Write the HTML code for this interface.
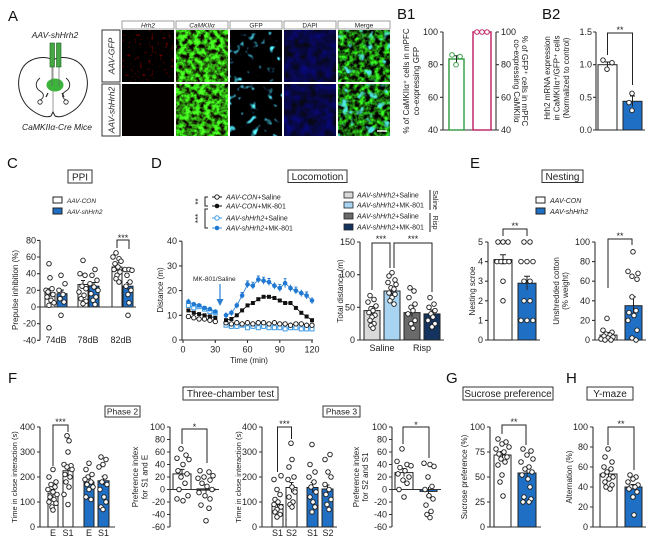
<!DOCTYPE html>
<html><head><meta charset="utf-8">
<style>
html,body{margin:0;padding:0;background:#fff;}
svg{display:block;}
text{font-family:"Liberation Sans",Arial,sans-serif;fill:#222;}
.ax{stroke:#333;stroke-width:1.1;fill:none;}
.er{stroke:#222;stroke-width:1;fill:none;}
.bw{fill:#fff;stroke:#222;stroke-width:1;}
.bb{fill:#1f70c4;stroke:#222;stroke-width:1;}
.tk{font-size:9px;}
.tl{font-size:8px;}
.it{font-style:italic;}
.lt{font-size:15px;fill:#111;}
.box{fill:#fff;stroke:#333;stroke-width:1;}
</style></head><body>
<svg width="650" height="539" viewBox="0 0 650 539" xmlns="http://www.w3.org/2000/svg" xmlns:xlink="http://www.w3.org/1999/xlink">
<defs>
<circle id="c" r="2.3" fill="#fff" stroke="#222" stroke-width="0.9"/>
<circle id="oc" r="2.2" fill="#fff" stroke="#111" stroke-width="0.9"/>
<rect id="sq" x="-2" y="-2" width="4" height="4" fill="#111"/>
<rect id="lb" x="-2" y="-2" width="4" height="4" fill="#fff" stroke="#3d9be6" stroke-width="1"/>
<circle id="bc" r="2.3" fill="#1f78d1"/>
<circle id="lc" r="2.2" fill="#fff" stroke="#3d9be6" stroke-width="1"/>
<filter id="tR" x="0" y="0" width="1" height="1" color-interpolation-filters="sRGB">
<feTurbulence type="fractalNoise" baseFrequency="0.35" numOctaves="1" seed="4"/>
<feColorMatrix type="matrix" values="2.4 0 0 0 -1.45  0 0 0 0 0  0 0 0 0 0  0 0 0 0 1"/>
</filter>
<filter id="tG" x="0" y="0" width="1" height="1" color-interpolation-filters="sRGB">
<feTurbulence type="fractalNoise" baseFrequency="0.2" numOctaves="3" seed="7"/>
<feColorMatrix type="matrix" values="0.5 0 0 0 -0.07  2.8 0 0 0 -0.8  0.3 0 0 0 -0.08  0 0 0 0 1"/>
</filter>
<filter id="tGd" x="0" y="0" width="1" height="1" color-interpolation-filters="sRGB">
<feTurbulence type="fractalNoise" baseFrequency="0.2" numOctaves="3" seed="9"/>
<feColorMatrix type="matrix" values="0.4 0 0 0 -0.1  2.4 0 0 0 -0.8  0.3 0 0 0 -0.1  0 0 0 0 1"/>
</filter>
<filter id="tC" x="0" y="0" width="1" height="1" color-interpolation-filters="sRGB">
<feTurbulence type="fractalNoise" baseFrequency="0.12" numOctaves="2" seed="11"/>
<feColorMatrix type="matrix" values="2 0 0 0 -1.22  6 0 0 0 -3.65  6 0 0 0 -3.6  0 0 0 0 1"/>
</filter>
<filter id="tC2" x="0" y="0" width="1" height="1" color-interpolation-filters="sRGB">
<feTurbulence type="fractalNoise" baseFrequency="0.12" numOctaves="2" seed="21"/>
<feColorMatrix type="matrix" values="2 0 0 0 -1.18  6 0 0 0 -3.55  6 0 0 0 -3.5  0 0 0 0 1"/>
</filter>
<filter id="tCa" x="0" y="0" width="1" height="1" color-interpolation-filters="sRGB">
<feTurbulence type="fractalNoise" baseFrequency="0.12" numOctaves="2" seed="13"/>
<feColorMatrix type="matrix" values="0 0 0 0 0.3  0 0 0 0 0.9  0 0 0 0 0.88  6 0 0 0 -3.6"/>
</filter>
<filter id="tCb" x="0" y="0" width="1" height="1" color-interpolation-filters="sRGB">
<feTurbulence type="fractalNoise" baseFrequency="0.12" numOctaves="2" seed="23"/>
<feColorMatrix type="matrix" values="0 0 0 0 0.3  0 0 0 0 0.9  0 0 0 0 0.88  6 0 0 0 -3.5"/>
</filter>
<filter id="tB" x="0" y="0" width="1" height="1" color-interpolation-filters="sRGB">
<feTurbulence type="fractalNoise" baseFrequency="0.12" numOctaves="2" seed="3"/>
<feColorMatrix type="matrix" values="0 0 0 0 0.03  0 0 0 0 0.03  0.7 0 0 0 -0.08  0 0 0 0 1"/>
</filter>
</defs>
<rect width="650" height="539" fill="#fff"/>

<!-- ===== Panel A ===== -->
<text class="lt" x="8" y="21">A</text>
<text x="55" y="38" font-size="8.5" font-style="italic" fill="#35a33a" text-anchor="middle">AAV-shHrh2</text>
<path d="M53,60 C45,55 27,57 21,71 C15,86 21,103 33,111 C40,116 47,118 51,116 L53,112 L55,116 C59,118 66,116 73,111 C85,103 91,86 85,71 C79,57 61,55 53,60 Z" fill="#fff" stroke="#222" stroke-width="1"/>
<path d="M53,60 L53,112" stroke="#555" stroke-width="0.6"/>
<path d="M40,78 C35,82 35,88 40,91 C45,94 44,98 40,100 M66,78 C71,82 71,88 66,91 C61,94 62,98 66,100" stroke="#222" stroke-width="0.9" fill="none"/>
<circle cx="40" cy="102" r="2.2" fill="none" stroke="#222" stroke-width="0.8"/>
<circle cx="66" cy="102" r="2.2" fill="none" stroke="#222" stroke-width="0.8"/>
<ellipse cx="55" cy="85" rx="8.5" ry="6.5" fill="#3cb43c"/>
<path d="M52,67 V86 M59,67 V86" stroke="#666" stroke-width="0.7"/>
<rect x="50" y="43" width="4.5" height="24" fill="#45a845" stroke="#1d5e1d" stroke-width="0.6"/>
<rect x="56.5" y="43" width="4.5" height="24" fill="#45a845" stroke="#1d5e1d" stroke-width="0.6"/>
<path d="M48,93 L46,97 M62,93 L64,97" stroke="#222" stroke-width="1.2"/>
<text x="57" y="130" font-size="8.5" font-style="italic" text-anchor="middle">CaMKIIα-Cre Mice</text>

<rect x="102" y="30" width="18" height="52" class="box" stroke="#888"/>
<rect x="102" y="84" width="18" height="52" class="box" stroke="#888"/>
<text transform="translate(114.5,56) rotate(-90)" font-size="8.5" font-style="italic" text-anchor="middle">AAV-GFP</text>
<text transform="translate(114.5,110) rotate(-90)" font-size="8.5" font-style="italic" text-anchor="middle">AAV-shHrh2</text>

<rect x="122" y="21" width="52" height="8" fill="#fff" stroke="#888" stroke-width="0.8"/>
<rect x="176" y="21" width="52" height="8" fill="#fff" stroke="#888" stroke-width="0.8"/>
<rect x="230" y="21" width="52" height="8" fill="#fff" stroke="#888" stroke-width="0.8"/>
<rect x="284" y="21" width="52" height="8" fill="#fff" stroke="#888" stroke-width="0.8"/>
<rect x="338" y="21" width="52" height="8" fill="#fff" stroke="#888" stroke-width="0.8"/>
<text x="148" y="27.5" font-size="6.5" font-style="italic" fill="#e03030" text-anchor="middle">Hrh2</text>
<text x="202" y="27.5" font-size="6.5" font-style="italic" fill="#2fb02f" text-anchor="middle">CaMKIIα</text>
<text x="256" y="27.5" font-size="6.5" fill="#30c8d0" text-anchor="middle">GFP</text>
<text x="310" y="27.5" font-size="6.5" fill="#4a4ae0" text-anchor="middle">DAPI</text>
<text x="364" y="27.5" font-size="6.5" text-anchor="middle">Merge</text>

<rect x="122" y="30" width="52" height="52" filter="url(#tR)"/>
<rect x="176" y="30" width="52" height="52" filter="url(#tG)"/>
<rect x="230" y="30" width="52" height="52" filter="url(#tC)"/>
<rect x="284" y="30" width="52" height="52" filter="url(#tB)"/>
<rect x="338" y="30" width="52" height="52" filter="url(#tGd)"/>
<rect x="338" y="30" width="52" height="52" filter="url(#tCa)"/>
<rect x="122" y="84" width="52" height="52" fill="#050000"/>
<rect x="176" y="84" width="52" height="52" filter="url(#tG)"/>
<rect x="230" y="84" width="52" height="52" filter="url(#tC2)"/>
<rect x="284" y="84" width="52" height="52" filter="url(#tB)"/>
<rect x="338" y="84" width="52" height="52" filter="url(#tGd)"/>
<rect x="338" y="84" width="52" height="52" filter="url(#tCb)"/>
<path d="M377,131 H387" stroke="#fff" stroke-width="1.5"/>

<!-- ===== Panel B1 ===== -->
<text class="lt" x="397" y="19">B1</text>
<text transform="translate(409,81) rotate(-90)" class="tl" text-anchor="middle">% of CaMKIIα⁺ cells in mPFC</text>
<text transform="translate(419,81) rotate(-90)" class="tl" text-anchor="middle">co-expressing GFP</text>
<path class="ax" d="M443,32 V130 H496 V32 M440,32H443 M440,64.7H443 M440,97.3H443 M440,130H443 M496,32H499 M496,64.7H499 M496,97.3H499 M496,130H499"/>
<g class="tk" text-anchor="end"><text x="438" y="35">100</text><text x="438" y="67.7">80</text><text x="438" y="100.3">60</text><text x="438" y="133">40</text></g>
<g class="tk"><text x="501" y="35">100</text><text x="501" y="67.7">80</text><text x="501" y="100.3">60</text><text x="501" y="133">40</text></g>
<rect x="449" y="59" width="15" height="71" fill="#fff" stroke="#3aa048" stroke-width="1.5"/>
<rect x="473" y="32" width="18" height="98" fill="#fff" stroke="#c02a6a" stroke-width="1.5"/>
<path class="er" d="M456.5,55.7 V62.3 M453.5,55.7 H459.5"/>
<circle cx="452" cy="54.9" r="2.3" fill="#fff" stroke="#3aa048" stroke-width="1"/>
<circle cx="460" cy="56.5" r="2.3" fill="#fff" stroke="#3aa048" stroke-width="1"/>
<circle cx="456" cy="64.7" r="2.3" fill="#fff" stroke="#3aa048" stroke-width="1"/>
<circle cx="477" cy="32" r="2.3" fill="#fff" stroke="#c02a6a" stroke-width="1"/>
<circle cx="482" cy="32" r="2.3" fill="#fff" stroke="#c02a6a" stroke-width="1"/>
<circle cx="487" cy="32" r="2.3" fill="#fff" stroke="#c02a6a" stroke-width="1"/>
<text transform="translate(522,81) rotate(90)" class="tl" text-anchor="middle">% of GFP⁺ cells in mPFC</text>
<text transform="translate(514,81) rotate(90)" class="tl" text-anchor="middle">co-expressing CaMKIIα</text>

<!-- ===== Panel B2 ===== -->
<text class="lt" x="542" y="19">B2</text>
<text transform="translate(550,78) rotate(-90)" class="tl" text-anchor="middle">Hrh2 mRNA expression</text>
<text transform="translate(559.5,78) rotate(-90)" class="tl" text-anchor="middle">in CaMKIIα⁺/GFP⁺ cells</text>
<text transform="translate(569,78) rotate(-90)" class="tl" text-anchor="middle">(Normalized to control)</text>
<path class="ax" d="M596,32 V130 H645 M593,32H596 M593,64.7H596 M593,97.3H596 M593,130H596"/>
<g class="tk" text-anchor="end"><text x="592" y="35">1.5</text><text x="592" y="67.7">1.0</text><text x="592" y="100.3">0.5</text><text x="592" y="133">0.0</text></g>
<rect x="598" y="64.7" width="19" height="65.3" class="bw"/>
<rect x="623" y="101.3" width="19" height="28.7" class="bb"/>
<path class="er" d="M607.5,62 V67.3 M605,62 H610 M632.5,96 V106.5 M630,96 H635"/>
<use href="#c" x="603" y="60.1"/><use href="#c" x="612" y="62.7"/><use href="#c" x="607" y="69.2"/>
<use href="#c" x="632" y="93.4"/><use href="#c" x="629" y="102.6"/><use href="#c" x="632" y="110.4"/>
<path class="er" d="M607.5,55 V33 H632.5 V85"/>
<text x="620" y="33" font-size="9" text-anchor="middle">**</text>

<!-- ===== Panel C ===== -->
<text class="lt" x="7" y="168">C</text>
<rect x="68" y="170" width="24" height="13" class="box"/>
<text x="80" y="180.5" font-size="10" text-anchor="middle">PPI</text>
<rect x="53" y="197" width="9" height="6" class="bw"/>
<rect x="53" y="208" width="9" height="6" class="bb"/>
<text x="67" y="203" font-size="6.5" font-style="italic">AAV-CON</text>
<text x="67" y="214" font-size="6.5" font-style="italic">AAV-shHrh2</text>
<path class="ax" d="M40,240.4 V340.3 M37,240.4H40 M37,257H40 M37,273.7H40 M37,290.3H40 M37,307H40 M37,323.7H40 M37,340.3H40"/>
<g class="tk" text-anchor="end"><text x="36" y="243.4">80</text><text x="36" y="260">60</text><text x="36" y="276.7">40</text><text x="36" y="293.3">20</text><text x="36" y="310">0</text><text x="36" y="326.7">-20</text><text x="36" y="343.3">-40</text></g>
<text transform="translate(18,290) rotate(-90)" class="tl" text-anchor="middle">Prepulse inhibition (%)</text>
<rect x="45" y="292.8" width="10" height="14.2" class="bw"/>
<rect x="57" y="293.7" width="10" height="13.3" class="bb"/>
<rect x="78" y="284.5" width="10" height="22.5" class="bw"/>
<rect x="89" y="286.2" width="10" height="20.8" class="bb"/>
<rect x="112" y="267" width="10" height="40" class="bw"/>
<rect x="123" y="286.2" width="10" height="20.8" class="bb"/>
<path class="ax" d="M40,307 H136"/>
<path class="er" d="M50,288.8V296.8 M48,288.8H52 M62,290V297 M60,290H64 M83,280.5V288.5 M81,280.5H85 M94,282.5V290 M92,282.5H96 M117,263V271 M115,263H119 M128,282.5V290 M126,282.5H130"/>
<g>
<use href="#c" x="49" y="263.7"/><use href="#c" x="50" y="277.8"/><use href="#c" x="46" y="290.3"/><use href="#c" x="52" y="288.7"/><use href="#c" x="48" y="292"/><use href="#c" x="53" y="294.5"/><use href="#c" x="47" y="297"/><use href="#c" x="51" y="300.3"/><use href="#c" x="54" y="302.8"/><use href="#c" x="49" y="305.3"/><use href="#c" x="49" y="327.8"/>
<use href="#c" x="61" y="275.3"/><use href="#c" x="65" y="283.7"/><use href="#c" x="59" y="290.3"/><use href="#c" x="63" y="294.5"/><use href="#c" x="60" y="298.7"/><use href="#c" x="64" y="302"/><use href="#c" x="61" y="315.3"/>
<use href="#c" x="83" y="260.4"/><use href="#c" x="80" y="273.7"/><use href="#c" x="85" y="275.3"/><use href="#c" x="82" y="286.2"/><use href="#c" x="86" y="288.7"/><use href="#c" x="79" y="292"/><use href="#c" x="84" y="295.3"/><use href="#c" x="81" y="298.7"/><use href="#c" x="86" y="301.2"/><use href="#c" x="83" y="303.7"/>
<use href="#c" x="95" y="269.5"/><use href="#c" x="92" y="275.3"/><use href="#c" x="97" y="280.3"/><use href="#c" x="90" y="283.7"/><use href="#c" x="94" y="287"/><use href="#c" x="98" y="290.3"/><use href="#c" x="91" y="293.7"/><use href="#c" x="96" y="297"/><use href="#c" x="93" y="300.3"/><use href="#c" x="95" y="304.5"/>
<use href="#c" x="116" y="252.9"/><use href="#c" x="113" y="257"/><use href="#c" x="119" y="258.7"/><use href="#c" x="121" y="261.2"/><use href="#c" x="115" y="263.7"/><use href="#c" x="118" y="267"/><use href="#c" x="114" y="269.5"/><use href="#c" x="120" y="272"/><use href="#c" x="117" y="275.3"/><use href="#c" x="116" y="278.7"/><use href="#c" x="119" y="282"/>
<use href="#c" x="125" y="269.5"/><use href="#c" x="129" y="269.5"/><use href="#c" x="132" y="270.3"/><use href="#c" x="127" y="275.3"/><use href="#c" x="130" y="282"/><use href="#c" x="126" y="286.2"/><use href="#c" x="131" y="290.3"/><use href="#c" x="128" y="294.5"/><use href="#c" x="129" y="302.8"/><use href="#c" x="128" y="315.3"/>
</g>
<path class="er" d="M117,248 V240 H129 V249"/>
<text x="123" y="241" font-size="9" text-anchor="middle">***</text>
<g class="tk" text-anchor="middle"><text x="56" y="343">74dB</text><text x="88" y="343">78dB</text><text x="121" y="343">82dB</text></g>

<!-- ===== Panel D ===== -->
<text class="lt" x="151" y="168">D</text>
<rect x="288" y="170" width="59" height="12.5" class="box"/>
<text x="317.5" y="180" font-size="10" text-anchor="middle">Locomotion</text>
<path d="M212,197H222 M212,206H222" stroke="#111" stroke-width="0.9"/>
<path d="M212,218H222 M212,228H222" stroke="#3d9be6" stroke-width="0.9"/>
<use href="#oc" x="217" y="197"/>
<circle cx="217" cy="206" r="2.3" fill="#111"/>
<use href="#lc" x="217" y="218"/>
<use href="#bc" x="217" y="228"/>
<g font-size="7"><text x="226" y="199.5"><tspan font-style="italic">AAV-CON</tspan>+Saline</text>
<text x="226" y="208.5"><tspan font-style="italic">AAV-CON</tspan>+MK-801</text>
<text x="226" y="220.5"><tspan font-style="italic">AAV-shHrh2</tspan>+Saline</text>
<text x="226" y="230.5"><tspan font-style="italic">AAV-shHrh2</tspan>+MK-801</text></g>
<path class="er" d="M208,197 H205 V206 H208 M208,209 H205 V228 H208"/>
<text transform="translate(201,201.5) rotate(-90)" font-size="8" text-anchor="middle">**</text>
<text transform="translate(201,218.5) rotate(-90)" font-size="8" text-anchor="middle">***</text>
<rect x="344" y="192" width="9" height="6" fill="#d9d9d9" stroke="#222" stroke-width="0.8"/>
<rect x="344" y="202" width="9" height="6" fill="#a8d4f2" stroke="#222" stroke-width="0.8"/>
<rect x="344" y="213" width="9" height="6" fill="#6a6a6a" stroke="#222" stroke-width="0.8"/>
<rect x="344" y="224" width="9" height="6" fill="#14345f" stroke="#222" stroke-width="0.8"/>
<g font-size="7"><text x="357" y="197.5"><tspan font-style="italic">AAV-shHrh2</tspan>+Saline</text>
<text x="357" y="207.5"><tspan font-style="italic">AAV-shHrh2</tspan>+MK-801</text>
<text x="357" y="218.5"><tspan font-style="italic">AAV-shHrh2</tspan>+Saline</text>
<text x="357" y="229.5"><tspan font-style="italic">AAV-shHrh2</tspan>+MK-801</text></g>
<path class="er" d="M430,190 V210 M430,213 V232"/>
<text transform="translate(433,200) rotate(90)" font-size="7" text-anchor="middle">Saline</text>
<text transform="translate(433,222.5) rotate(90)" font-size="7" text-anchor="middle">Risp</text>
<path class="ax" d="M182,241.2 V340 H313 M179,241.2H182 M179,265.9H182 M179,290.6H182 M179,315.3H182 M179,340H182 M183,340V343 M215.3,340V343 M247.5,340V343 M279.8,340V343 M312,340V343"/>
<g class="tk" text-anchor="end"><text x="177" y="244.2">40</text><text x="177" y="268.9">30</text><text x="177" y="293.6">20</text><text x="177" y="318.3">10</text><text x="177" y="343">0</text></g>
<g class="tk" text-anchor="middle"><text x="183" y="352.5">0</text><text x="215.3" y="352.5">30</text><text x="247.5" y="352.5">60</text><text x="279.8" y="352.5">90</text><text x="312" y="352.5">120</text></g>
<text x="249" y="363" class="tl" text-anchor="middle">Time (min)</text>
<text transform="translate(163,290) rotate(-90)" class="tl" text-anchor="middle">Distance (m)</text>
<text x="193" y="281" font-size="6.5">MK-801/Saline</text>
<path d="M220,284 V300" stroke="#2a7fd4" stroke-width="1.2"/>
<path d="M216.5,299 L223.5,299 L220,306 Z" fill="#2a7fd4"/>
<g fill="none" stroke-width="0.8">
<polyline stroke="#111" points="188.4,316.5 193.8,317.8 199.1,319 204.5,319 209.9,320.2 215.3,321.5"/>
<polyline stroke="#111" points="226,322.7 231.4,323.9 236.8,322.7 242.1,323.9 247.5,322.7 252.9,323.9 258.3,322.7 263.6,322.7 269,323.9 274.4,322.7 279.8,323.9 285.1,323.9 290.5,325.2 295.9,323.9 301.3,323.9 306.6,325.2 312,325.2"/>
<polyline stroke="#3d9be6" points="188.4,305.4 193.8,307.9 199.1,306.7 204.5,309.1 209.9,311.6 215.3,312.8"/>
<polyline stroke="#3d9be6" points="226,325.2 231.4,326.4 236.8,326.4 242.1,325.2 247.5,327.7 252.9,326.4 258.3,327.7 263.6,326.4 269,327.7 274.4,327.7 279.8,327.7 285.1,328.9 290.5,327.7 295.9,327.7 301.3,328.9 306.6,328.9 312,328.9"/>
<polyline stroke="#111" points="188.4,310.4 193.8,312.8 199.1,314.1 204.5,315.3 209.9,316.5 215.3,317.8"/>
<polyline stroke="#111" points="226,320.2 231.4,319 236.8,315.3 242.1,310.4 247.5,305.4 252.9,303 258.3,299.2 263.6,296.8 269,296.8 274.4,298 279.8,300.5 285.1,303 290.5,303 295.9,307.9 301.3,312.8 306.6,316.5 312,320.2"/>
<polyline stroke="#1f78d1" points="188.4,301.7 193.8,304.2 199.1,305.4 204.5,307.9 209.9,309.1 215.3,311.6"/>
<polyline stroke="#1f78d1" points="226,315.3 231.4,312.8 236.8,305.4 242.1,295.5 247.5,284.4 252.9,285.7 258.3,279.5 263.6,280.7 269,282 274.4,285.7 279.8,288.1 285.1,283.2 290.5,288.1 295.9,290.6 301.3,293.1 306.6,295.5 312,300.5"/>
</g>
<path stroke="#1f78d1" stroke-width="0.9" fill="none" d="M188.4,298.7V304.7 M226,312.3V318.3 M231.4,309.8V315.8 M236.8,302.4V308.4 M242.1,292.5V298.5 M240.6,292.5H243.6 M247.5,281V287.8 M246,281H249 M252.9,282.2V289.2 M251.4,282.2H254.4 M258.3,276V283 M256.8,276H259.8 M263.6,277.2V284.2 M262.1,277.2H265.1 M269,278.5V285.5 M267.5,278.5H270.5 M274.4,282.2V289.2 M279.8,284.6V291.6 M278.3,284.6H281.3 M285.1,278.7V287.7 M283.6,278.7H286.6 M290.5,284.6V291.6 M295.9,287.1V294.1 M294.4,287.1H297.4 M301.3,289.6V296.6 M306.6,292V299 M305.1,292H308.1 M312,297V304"/>
<g>
<use href="#lb" x="188.4" y="305.4"/><use href="#lb" x="193.8" y="307.9"/><use href="#lb" x="199.1" y="306.7"/><use href="#lb" x="204.5" y="309.1"/><use href="#lb" x="209.9" y="311.6"/><use href="#lb" x="215.3" y="312.8"/>
<use href="#lb" x="226" y="325.2"/><use href="#lb" x="231.4" y="326.4"/><use href="#lb" x="236.8" y="326.4"/><use href="#lb" x="242.1" y="325.2"/><use href="#lb" x="247.5" y="327.7"/><use href="#lb" x="252.9" y="326.4"/><use href="#lb" x="258.3" y="327.7"/><use href="#lb" x="263.6" y="326.4"/><use href="#lb" x="269" y="327.7"/><use href="#lb" x="274.4" y="327.7"/><use href="#lb" x="279.8" y="327.7"/><use href="#lb" x="285.1" y="328.9"/><use href="#lb" x="290.5" y="327.7"/><use href="#lb" x="295.9" y="327.7"/><use href="#lb" x="301.3" y="328.9"/><use href="#lb" x="306.6" y="328.9"/><use href="#lb" x="312" y="328.9"/>
<use href="#oc" x="188.4" y="316.5"/><use href="#oc" x="193.8" y="317.8"/><use href="#oc" x="199.1" y="319"/><use href="#oc" x="204.5" y="319"/><use href="#oc" x="209.9" y="320.2"/><use href="#oc" x="215.3" y="321.5"/>
<use href="#oc" x="226" y="322.7"/><use href="#oc" x="231.4" y="323.9"/><use href="#oc" x="236.8" y="322.7"/><use href="#oc" x="242.1" y="323.9"/><use href="#oc" x="247.5" y="322.7"/><use href="#oc" x="252.9" y="323.9"/><use href="#oc" x="258.3" y="322.7"/><use href="#oc" x="263.6" y="322.7"/><use href="#oc" x="269" y="323.9"/><use href="#oc" x="274.4" y="322.7"/><use href="#oc" x="279.8" y="323.9"/><use href="#oc" x="285.1" y="323.9"/><use href="#oc" x="290.5" y="325.2"/><use href="#oc" x="295.9" y="323.9"/><use href="#oc" x="301.3" y="323.9"/><use href="#oc" x="306.6" y="325.2"/><use href="#oc" x="312" y="325.2"/>
<use href="#sq" x="188.4" y="310.4"/><use href="#sq" x="193.8" y="312.8"/><use href="#sq" x="199.1" y="314.1"/><use href="#sq" x="204.5" y="315.3"/><use href="#sq" x="209.9" y="316.5"/><use href="#sq" x="215.3" y="317.8"/>
<use href="#sq" x="226" y="320.2"/><use href="#sq" x="231.4" y="319"/><use href="#sq" x="236.8" y="315.3"/><use href="#sq" x="242.1" y="310.4"/><use href="#sq" x="247.5" y="305.4"/><use href="#sq" x="252.9" y="303"/><use href="#sq" x="258.3" y="299.2"/><use href="#sq" x="263.6" y="296.8"/><use href="#sq" x="269" y="296.8"/><use href="#sq" x="274.4" y="298"/><use href="#sq" x="279.8" y="300.5"/><use href="#sq" x="285.1" y="303"/><use href="#sq" x="290.5" y="303"/><use href="#sq" x="295.9" y="307.9"/><use href="#sq" x="301.3" y="312.8"/><use href="#sq" x="306.6" y="316.5"/><use href="#sq" x="312" y="320.2"/>
<use href="#bc" x="188.4" y="301.7"/><use href="#bc" x="193.8" y="304.2"/><use href="#bc" x="199.1" y="305.4"/><use href="#bc" x="204.5" y="307.9"/><use href="#bc" x="209.9" y="309.1"/><use href="#bc" x="215.3" y="311.6"/>
<use href="#bc" x="226" y="315.3"/><use href="#bc" x="231.4" y="312.8"/><use href="#bc" x="236.8" y="305.4"/><use href="#bc" x="242.1" y="295.5"/><use href="#bc" x="247.5" y="284.4"/><use href="#bc" x="252.9" y="285.7"/><use href="#bc" x="258.3" y="279.5"/><use href="#bc" x="263.6" y="280.7"/><use href="#bc" x="269" y="282"/><use href="#bc" x="274.4" y="285.7"/><use href="#bc" x="279.8" y="288.1"/><use href="#bc" x="285.1" y="283.2"/><use href="#bc" x="290.5" y="288.1"/><use href="#bc" x="295.9" y="290.6"/><use href="#bc" x="301.3" y="293.1"/><use href="#bc" x="306.6" y="295.5"/><use href="#bc" x="312" y="300.5"/>
</g>
<path class="ax" d="M360,242 V340 H444 M357,242H360 M357,274.7H360 M357,307.3H360 M357,340H360"/>
<g class="tk" text-anchor="end"><text x="355" y="245">150</text><text x="355" y="277.7">100</text><text x="355" y="310.3">50</text><text x="355" y="343">0</text></g>
<text transform="translate(343,291) rotate(-90)" class="tl" text-anchor="middle">Total distance (m)</text>
<rect x="364" y="310.6" width="16" height="29.4" fill="#d9d9d9" stroke="#222" stroke-width="1"/>
<rect x="384" y="291" width="16" height="49" fill="#a8d4f2" stroke="#222" stroke-width="1"/>
<rect x="404" y="312.6" width="16" height="27.4" fill="#6a6a6a" stroke="#222" stroke-width="1"/>
<rect x="424" y="313.9" width="16" height="26.1" fill="#14345f" stroke="#222" stroke-width="1"/>
<path class="er" d="M372,306.6V314.6 M369.5,306.6H374.5 M392,287V295 M389.5,287H394.5 M412,308V317 M409.5,308H414.5 M432,310V318 M429.5,310H434.5"/>
<g>
<use href="#c" x="370" y="295.6"/><use href="#c" x="374" y="299.5"/><use href="#c" x="368" y="302.1"/><use href="#c" x="376" y="306"/><use href="#c" x="371" y="308.7"/><use href="#c" x="373" y="310.6"/><use href="#c" x="369" y="312.6"/><use href="#c" x="375" y="315.2"/><use href="#c" x="372" y="317.1"/><use href="#c" x="370" y="320.4"/><use href="#c" x="374" y="323.7"/><use href="#c" x="371" y="325.6"/><use href="#c" x="373" y="328.2"/>
<use href="#c" x="392" y="272.7"/><use href="#c" x="389" y="276"/><use href="#c" x="395" y="279.9"/><use href="#c" x="388" y="282.5"/><use href="#c" x="396" y="284.5"/><use href="#c" x="391" y="287.8"/><use href="#c" x="394" y="289.1"/><use href="#c" x="389" y="293"/><use href="#c" x="395" y="294.3"/><use href="#c" x="392" y="297.6"/><use href="#c" x="390" y="300.8"/><use href="#c" x="394" y="304.1"/>
<use href="#c" x="410" y="287.8"/><use href="#c" x="414" y="291"/><use href="#c" x="409" y="297.6"/><use href="#c" x="415" y="304.1"/><use href="#c" x="411" y="307.3"/><use href="#c" x="413" y="310.6"/><use href="#c" x="408" y="313.9"/><use href="#c" x="415" y="320.4"/><use href="#c" x="411" y="323.7"/><use href="#c" x="413" y="328.2"/>
<use href="#c" x="430" y="297.6"/><use href="#c" x="434" y="304.1"/><use href="#c" x="429" y="307.3"/><use href="#c" x="435" y="310.6"/><use href="#c" x="431" y="313.9"/><use href="#c" x="433" y="317.1"/><use href="#c" x="428" y="320.4"/><use href="#c" x="435" y="323.7"/><use href="#c" x="432" y="326.9"/>
</g>
<path class="er" d="M372,290 V243 H390 V268 M394,268 V243 H432 V292"/>
<text x="381" y="242" font-size="9" text-anchor="middle">***</text>
<text x="413" y="242" font-size="9" text-anchor="middle">***</text>
<g class="tk" text-anchor="middle"><text x="382" y="351">Saline</text><text x="422" y="351">Risp</text></g>

<!-- ===== Panel E ===== -->
<text class="lt" x="470" y="168">E</text>
<rect x="542" y="170" width="41" height="12.5" class="box"/>
<text x="562.5" y="180" font-size="10" text-anchor="middle">Nesting</text>
<rect x="536" y="197" width="9" height="6" class="bw"/>
<rect x="536" y="208" width="9" height="6" class="bb"/>
<text x="550" y="203" font-size="7" font-style="italic">AAV-CON</text>
<text x="550" y="214" font-size="7" font-style="italic">AAV-shHrh2</text>
<path class="ax" d="M488,242 V340 H540 M485,242H488 M485,261.6H488 M485,281.2H488 M485,300.8H488 M485,320.4H488 M485,340H488"/>
<g class="tk" text-anchor="end"><text x="483" y="245">5</text><text x="483" y="264.6">4</text><text x="483" y="284.2">3</text><text x="483" y="303.8">2</text><text x="483" y="323.4">1</text><text x="483" y="343">0</text></g>
<text transform="translate(475,291) rotate(-90)" class="tl" text-anchor="middle">Nesting scroe</text>
<rect x="494" y="259.6" width="18" height="80.4" class="bw"/>
<rect x="518" y="283.2" width="18" height="56.8" class="bb"/>
<path class="er" d="M503,254.7V264.5 M500,254.7H506 M527,276.2V290 M524,276.2H530"/>
<g>
<use href="#c" x="498" y="242"/><use href="#c" x="503" y="242"/><use href="#c" x="508" y="242"/>
<use href="#c" x="497" y="261.6"/><use href="#c" x="501" y="261.6"/><use href="#c" x="505" y="261.6"/><use href="#c" x="509" y="261.6"/>
<use href="#c" x="503" y="281.2"/><use href="#c" x="503" y="300.8"/>
<use href="#c" x="524" y="242"/><use href="#c" x="530" y="242"/>
<use href="#c" x="521" y="261.6"/><use href="#c" x="527" y="261.6"/><use href="#c" x="533" y="261.6"/>
<use href="#c" x="524" y="281.2"/><use href="#c" x="530" y="281.2"/>
<use href="#c" x="524" y="300.8"/><use href="#c" x="530" y="300.8"/>
<use href="#c" x="521" y="320.4"/><use href="#c" x="527" y="320.4"/><use href="#c" x="533" y="320.4"/>
</g>
<path class="er" d="M503,236 V229 H527 V236"/>
<text x="515" y="229" font-size="9" text-anchor="middle">**</text>
<path class="ax" d="M595,242 V340 H646 M592,242H595 M592,261.6H595 M592,281.2H595 M592,300.8H595 M592,320.4H595 M592,340H595"/>
<g class="tk" text-anchor="end"><text x="590" y="245">100</text><text x="590" y="264.6">80</text><text x="590" y="284.2">60</text><text x="590" y="303.8">40</text><text x="590" y="323.4">20</text><text x="590" y="343">0</text></g>
<text transform="translate(559,291) rotate(-90)" class="tl" text-anchor="middle">Unshredded cotton</text>
<text transform="translate(568,291) rotate(-90)" class="tl" text-anchor="middle">(% weight)</text>
<rect x="600" y="335.1" width="17" height="4.9" class="bw"/>
<rect x="625" y="305.7" width="17" height="34.3" class="bb"/>
<path class="er" d="M608.5,332.5V337 M606,332.5H611 M633.5,296.9V314.5 M631,296.9H636"/>
<g>
<use href="#c" x="607" y="318.4"/><use href="#c" x="603" y="330.2"/><use href="#c" x="612" y="332.2"/><use href="#c" x="606" y="334.1"/><use href="#c" x="610" y="335.1"/><use href="#c" x="604" y="336.1"/><use href="#c" x="613" y="337.1"/><use href="#c" x="608" y="338"/><use href="#c" x="601" y="339"/><use href="#c" x="605" y="340"/><use href="#c" x="611" y="340"/>
<use href="#c" x="633" y="251.8"/><use href="#c" x="628" y="271.4"/><use href="#c" x="638" y="273.4"/><use href="#c" x="632" y="276.3"/><use href="#c" x="637" y="279.2"/><use href="#c" x="632" y="296.9"/><use href="#c" x="636" y="310.6"/><use href="#c" x="629" y="312.6"/><use href="#c" x="634" y="315.5"/><use href="#c" x="628" y="320.4"/><use href="#c" x="637" y="330.2"/><use href="#c" x="632" y="338"/><use href="#c" x="636" y="340"/>
</g>
<path class="er" d="M608,288 V239 H632 V245"/>
<text x="620" y="239" font-size="9" text-anchor="middle">**</text>

<!-- ===== Panel F ===== -->
<text class="lt" x="8" y="383">F</text>
<rect x="183" y="387" width="95" height="13" class="box"/>
<text x="230.5" y="397" font-size="10" text-anchor="middle">Three-chamber test</text>
<rect x="105" y="406" width="35" height="11" class="box"/>
<text x="122.5" y="414.5" font-size="8.5" text-anchor="middle">Phase 2</text>
<rect x="323" y="406" width="37" height="11" class="box"/>
<text x="341.5" y="414.5" font-size="8.5" text-anchor="middle">Phase 3</text>
<path class="ax" d="M40,427 V527 H115 M37,427H40 M37,452H40 M37,477H40 M37,502H40 M37,527H40"/>
<g class="tk" text-anchor="end"><text x="35" y="430">400</text><text x="35" y="455">300</text><text x="35" y="480">200</text><text x="35" y="505">100</text><text x="35" y="530">0</text></g>
<text transform="translate(17,477) rotate(-90)" font-size="7.5" text-anchor="middle">Time in close interaction (s)</text>
<rect x="48" y="493.25" width="10" height="33.75" class="bw"/>
<rect x="63" y="470.75" width="10" height="56.25" class="bw"/>
<rect x="84" y="482" width="10" height="45" class="bb"/>
<rect x="98" y="480.75" width="11" height="46.25" class="bb"/>
<path class="er" d="M53,489.5V497 M51,489.5H55 M68,465.75V475.75 M66,465.75H70 M89,478.5V485.5 M87,478.5H91 M103.5,476.25V485.25 M101.5,476.25H105.5"/>
<g>
<use href="#c" x="53" y="469.5"/><use href="#c" x="49" y="477"/><use href="#c" x="56" y="482"/><use href="#c" x="51" y="484.5"/><use href="#c" x="55" y="487"/><use href="#c" x="48" y="489.5"/><use href="#c" x="53" y="492"/><use href="#c" x="57" y="494.5"/><use href="#c" x="50" y="497"/><use href="#c" x="54" y="499.5"/><use href="#c" x="49" y="502"/><use href="#c" x="56" y="503.25"/><use href="#c" x="52" y="507"/><use href="#c" x="53" y="510"/>
<use href="#c" x="67" y="435.75"/><use href="#c" x="69" y="440.75"/><use href="#c" x="68" y="452"/><use href="#c" x="64" y="464.5"/><use href="#c" x="71" y="465.75"/><use href="#c" x="67" y="467"/><use href="#c" x="72" y="469.5"/><use href="#c" x="65" y="474.5"/><use href="#c" x="70" y="477"/><use href="#c" x="66" y="482"/><use href="#c" x="69" y="487"/><use href="#c" x="64" y="494.5"/><use href="#c" x="68" y="504.5"/>
<use href="#c" x="89" y="463.25"/><use href="#c" x="86" y="469.5"/><use href="#c" x="92" y="474.5"/><use href="#c" x="88" y="477"/><use href="#c" x="85" y="479.5"/><use href="#c" x="91" y="482"/><use href="#c" x="87" y="484.5"/><use href="#c" x="93" y="487"/><use href="#c" x="89" y="489.5"/><use href="#c" x="86" y="497"/><use href="#c" x="91" y="499.5"/>
<use href="#c" x="101" y="457"/><use href="#c" x="106" y="459.5"/><use href="#c" x="103" y="464.5"/><use href="#c" x="99" y="467"/><use href="#c" x="105" y="477"/><use href="#c" x="102" y="482"/><use href="#c" x="107" y="484.5"/><use href="#c" x="100" y="489.5"/><use href="#c" x="104" y="497"/><use href="#c" x="106" y="502"/><use href="#c" x="101" y="507"/><use href="#c" x="103" y="509.5"/>
</g>
<path class="er" d="M53,466 V425 H68 V432"/>
<text x="60.5" y="425" font-size="9" text-anchor="middle">***</text>
<g class="tk" text-anchor="middle"><text x="53" y="536">E</text><text x="68" y="536">S1</text><text x="89" y="536">E</text><text x="103.5" y="536">S1</text></g>
<path class="ax" d="M170,427 V527 M167,427H170 M167,439.5H170 M167,452H170 M167,464.5H170 M167,477H170 M167,489.5H170 M167,502H170 M167,514.5H170 M167,527H170"/>
<g class="tk" text-anchor="end"><text x="165" y="430">100</text><text x="165" y="442.5">80</text><text x="165" y="455">60</text><text x="165" y="467.5">40</text><text x="165" y="480">20</text><text x="165" y="492.5">0</text><text x="165" y="505">-20</text><text x="165" y="517.5">-40</text><text x="165" y="530">-60</text></g>
<text transform="translate(138,477) rotate(-90)" class="tl" text-anchor="middle">Preference index</text>
<text transform="translate(147.5,477) rotate(-90)" class="tl" text-anchor="middle">for S1 and E</text>
<rect x="173" y="473.9" width="18" height="15.6" class="bw"/>
<rect x="197" y="488.9" width="18" height="1.2" class="bb"/>
<path class="ax" d="M170,489.5 H219"/>
<path class="er" d="M182,469.4V478.4 M179.5,469.4H184.5 M206,484.9V492.9 M203.5,484.9H208.5"/>
<g>
<use href="#c" x="181" y="448.9"/><use href="#c" x="186" y="455.1"/><use href="#c" x="177" y="458.25"/><use href="#c" x="189" y="459.5"/><use href="#c" x="183" y="464.5"/><use href="#c" x="178" y="470.75"/><use href="#c" x="187" y="473.9"/><use href="#c" x="181" y="477"/><use href="#c" x="185" y="483.25"/><use href="#c" x="179" y="489.5"/><use href="#c" x="188" y="495.75"/><use href="#c" x="177" y="498.9"/><use href="#c" x="183" y="500.75"/>
<use href="#c" x="200" y="470.75"/><use href="#c" x="209" y="472"/><use href="#c" x="213" y="475.75"/><use href="#c" x="204" y="477"/><use href="#c" x="198" y="478.25"/><use href="#c" x="210" y="480.1"/><use href="#c" x="202" y="483.25"/><use href="#c" x="207" y="486.4"/><use href="#c" x="212" y="489.5"/><use href="#c" x="199" y="492.6"/><use href="#c" x="205" y="495.75"/><use href="#c" x="210" y="498.9"/><use href="#c" x="201" y="505.1"/><use href="#c" x="209" y="508.25"/><use href="#c" x="206" y="520.75"/>
</g>
<path class="er" d="M182,444 V429 H207 V463"/>
<text x="194.5" y="430" font-size="9" text-anchor="middle">*</text>
<path class="ax" d="M262,427 V527 H337 M259,427H262 M259,452H262 M259,477H262 M259,502H262 M259,527H262"/>
<g class="tk" text-anchor="end"><text x="257" y="430">400</text><text x="257" y="455">300</text><text x="257" y="480">200</text><text x="257" y="505">100</text><text x="257" y="530">0</text></g>
<text transform="translate(241,477) rotate(-90)" font-size="7.5" text-anchor="middle">Time in close interaction (s)</text>
<rect x="272" y="504.5" width="11" height="22.5" class="bw"/>
<rect x="286" y="487.5" width="11" height="39.5" class="bw"/>
<rect x="307" y="487.5" width="11" height="39.5" class="bb"/>
<rect x="322" y="489" width="11" height="38" class="bb"/>
<path class="er" d="M277.5,501.5V507.5 M275.5,501.5H279.5 M291.5,482.5V492.5 M289.5,482.5H293.5 M312.5,482.5V492.5 M310.5,482.5H314.5 M327.5,485V493 M325.5,485H329.5"/>
<g>
<use href="#c" x="281" y="475.75"/><use href="#c" x="274" y="479.5"/><use href="#c" x="277" y="489.5"/><use href="#c" x="280" y="494.5"/><use href="#c" x="275" y="499.5"/><use href="#c" x="278" y="502"/><use href="#c" x="274" y="504.5"/><use href="#c" x="281" y="507"/><use href="#c" x="277" y="509.5"/><use href="#c" x="275" y="512"/><use href="#c" x="280" y="514.5"/><use href="#c" x="277" y="517"/>
<use href="#c" x="291" y="443.25"/><use href="#c" x="292" y="459.5"/><use href="#c" x="289" y="467"/><use href="#c" x="294" y="477"/><use href="#c" x="288" y="479.5"/><use href="#c" x="292" y="487"/><use href="#c" x="295" y="492"/><use href="#c" x="289" y="497"/><use href="#c" x="293" y="502"/><use href="#c" x="290" y="504.5"/><use href="#c" x="292" y="507"/>
<use href="#c" x="312" y="444.5"/><use href="#c" x="310" y="464.5"/><use href="#c" x="315" y="472"/><use href="#c" x="309" y="477"/><use href="#c" x="314" y="482"/><use href="#c" x="311" y="487"/><use href="#c" x="316" y="492"/><use href="#c" x="310" y="497"/><use href="#c" x="313" y="502"/><use href="#c" x="315" y="507"/><use href="#c" x="312" y="512"/>
<use href="#c" x="330" y="454.5"/><use href="#c" x="325" y="459.5"/><use href="#c" x="328" y="472"/><use href="#c" x="331" y="477"/><use href="#c" x="325" y="484.5"/><use href="#c" x="329" y="489.5"/><use href="#c" x="326" y="494.5"/><use href="#c" x="331" y="499.5"/><use href="#c" x="327" y="504.5"/><use href="#c" x="329" y="509.5"/>
</g>
<path class="er" d="M277.5,472 V427 H291.5 V439"/>
<text x="284.5" y="427" font-size="9" text-anchor="middle">***</text>
<g class="tk" text-anchor="middle"><text x="277.5" y="536">S1</text><text x="291.5" y="536">S2</text><text x="312.5" y="536">S1</text><text x="328" y="536">S2</text></g>
<path class="ax" d="M392,427 V527 M389,427H392 M389,439.5H392 M389,452H392 M389,464.5H392 M389,477H392 M389,489.5H392 M389,502H392 M389,514.5H392 M389,527H392"/>
<g class="tk" text-anchor="end"><text x="387" y="430">100</text><text x="387" y="442.5">80</text><text x="387" y="455">60</text><text x="387" y="467.5">40</text><text x="387" y="480">20</text><text x="387" y="492.5">0</text><text x="387" y="505">-20</text><text x="387" y="517.5">-40</text><text x="387" y="530">-60</text></g>
<text transform="translate(359,477) rotate(-90)" class="tl" text-anchor="middle">Preference index</text>
<text transform="translate(368,477) rotate(-90)" class="tl" text-anchor="middle">for S2 and S1</text>
<rect x="395" y="472.6" width="18" height="16.9" class="bw"/>
<rect x="420" y="489.5" width="17" height="1.9" class="bb"/>
<path class="ax" d="M392,489.5 H441"/>
<path class="er" d="M404,468.6V476.6 M401.5,468.6H406.5 M428.5,486.9V495.9 M426,495.9H431"/>
<g>
<use href="#c" x="402" y="448.9"/><use href="#c" x="397" y="461.4"/><use href="#c" x="407" y="464.5"/><use href="#c" x="411" y="465.75"/><use href="#c" x="400" y="467.6"/><use href="#c" x="405" y="470.75"/><use href="#c" x="398" y="473.9"/><use href="#c" x="409" y="477"/><use href="#c" x="403" y="480.1"/><use href="#c" x="407" y="483.25"/><use href="#c" x="399" y="489.5"/><use href="#c" x="404" y="497"/>
<use href="#c" x="424" y="463.25"/><use href="#c" x="430" y="464.5"/><use href="#c" x="434" y="466.4"/><use href="#c" x="428" y="477"/><use href="#c" x="432" y="486.4"/><use href="#c" x="425" y="489.5"/><use href="#c" x="429" y="495.75"/><use href="#c" x="433" y="498.9"/><use href="#c" x="426" y="505.1"/><use href="#c" x="431" y="511.4"/><use href="#c" x="427" y="514.5"/><use href="#c" x="430" y="517.6"/>
</g>
<path class="er" d="M403,444 V427 H429 V458"/>
<text x="416" y="428" font-size="9" text-anchor="middle">*</text>

<!-- ===== Panel G ===== -->
<text class="lt" x="446" y="383">G</text>
<rect x="463" y="387" width="90" height="13" class="box"/>
<text x="508" y="397" font-size="10" text-anchor="middle">Sucrose preference</text>
<path class="ax" d="M490,427 V527 H541 M487,427H490 M487,452H490 M487,477H490 M487,502H490 M487,527H490"/>
<g class="tk" text-anchor="end"><text x="485" y="430">100</text><text x="485" y="455">75</text><text x="485" y="480">50</text><text x="485" y="505">25</text><text x="485" y="530">0</text></g>
<text transform="translate(467,477) rotate(-90)" class="tl" text-anchor="middle">Sucrose preference (%)</text>
<rect x="494" y="455" width="17" height="72" class="bw"/>
<rect x="518" y="473" width="18" height="54" class="bb"/>
<path class="er" d="M502.5,451.5V458.5 M500,451.5H505 M527,469V477 M524.5,469H529.5"/>
<g>
<use href="#c" x="498" y="439"/><use href="#c" x="506" y="442"/><use href="#c" x="502" y="444"/><use href="#c" x="509" y="447"/><use href="#c" x="496" y="449"/><use href="#c" x="504" y="452"/><use href="#c" x="499" y="454"/><use href="#c" x="507" y="457"/><use href="#c" x="501" y="459"/><use href="#c" x="505" y="462"/><use href="#c" x="498" y="465"/><use href="#c" x="502" y="475"/><use href="#c" x="500" y="482"/><use href="#c" x="503" y="496"/>
<use href="#c" x="523" y="449"/><use href="#c" x="531" y="451"/><use href="#c" x="527" y="455"/><use href="#c" x="533" y="459"/><use href="#c" x="521" y="462"/><use href="#c" x="529" y="467"/><use href="#c" x="525" y="469"/><use href="#c" x="532" y="472"/><use href="#c" x="522" y="475"/><use href="#c" x="528" y="479"/><use href="#c" x="530" y="487"/><use href="#c" x="524" y="497"/><use href="#c" x="531" y="499"/><use href="#c" x="523" y="502"/><use href="#c" x="529" y="502"/>
</g>
<path class="er" d="M502,434 V425 H526 V445"/>
<text x="514" y="425" font-size="9" text-anchor="middle">**</text>

<!-- ===== Panel H ===== -->
<text class="lt" x="566" y="383">H</text>
<rect x="587" y="387" width="46" height="13" class="box"/>
<text x="610" y="397" font-size="10" text-anchor="middle">Y-maze</text>
<path class="ax" d="M593,427 V527 H646 M590,427H593 M590,447H593 M590,467H593 M590,487H593 M590,507H593 M590,527H593"/>
<g class="tk" text-anchor="end"><text x="588" y="430">100</text><text x="588" y="450">80</text><text x="588" y="470">60</text><text x="588" y="490">40</text><text x="588" y="510">20</text><text x="588" y="530">0</text></g>
<text transform="translate(572,477) rotate(-90)" class="tl" text-anchor="middle">Alternation (%)</text>
<rect x="600" y="474" width="17" height="53" class="bw"/>
<rect x="625" y="487" width="17" height="40" class="bb"/>
<path class="er" d="M608.5,471V477 M606,471H611 M633.5,484.5V489.5 M631,484.5H636"/>
<g>
<use href="#c" x="608" y="449"/><use href="#c" x="605" y="457"/><use href="#c" x="612" y="462"/><use href="#c" x="604" y="467"/><use href="#c" x="611" y="469"/><use href="#c" x="607" y="472"/><use href="#c" x="603" y="475"/><use href="#c" x="613" y="477"/><use href="#c" x="609" y="479"/><use href="#c" x="605" y="482"/><use href="#c" x="612" y="485"/><use href="#c" x="606" y="487"/><use href="#c" x="610" y="489"/>
<use href="#c" x="630" y="475"/><use href="#c" x="636" y="477"/><use href="#c" x="633" y="479"/><use href="#c" x="628" y="482"/><use href="#c" x="638" y="485"/><use href="#c" x="631" y="487"/><use href="#c" x="635" y="487"/><use href="#c" x="629" y="489"/><use href="#c" x="637" y="492"/><use href="#c" x="633" y="497"/><use href="#c" x="634" y="515"/>
</g>
<path class="er" d="M608,445 V427 H634 V470"/>
<text x="621" y="427" font-size="9" text-anchor="middle">**</text>
</svg>
</body></html>
